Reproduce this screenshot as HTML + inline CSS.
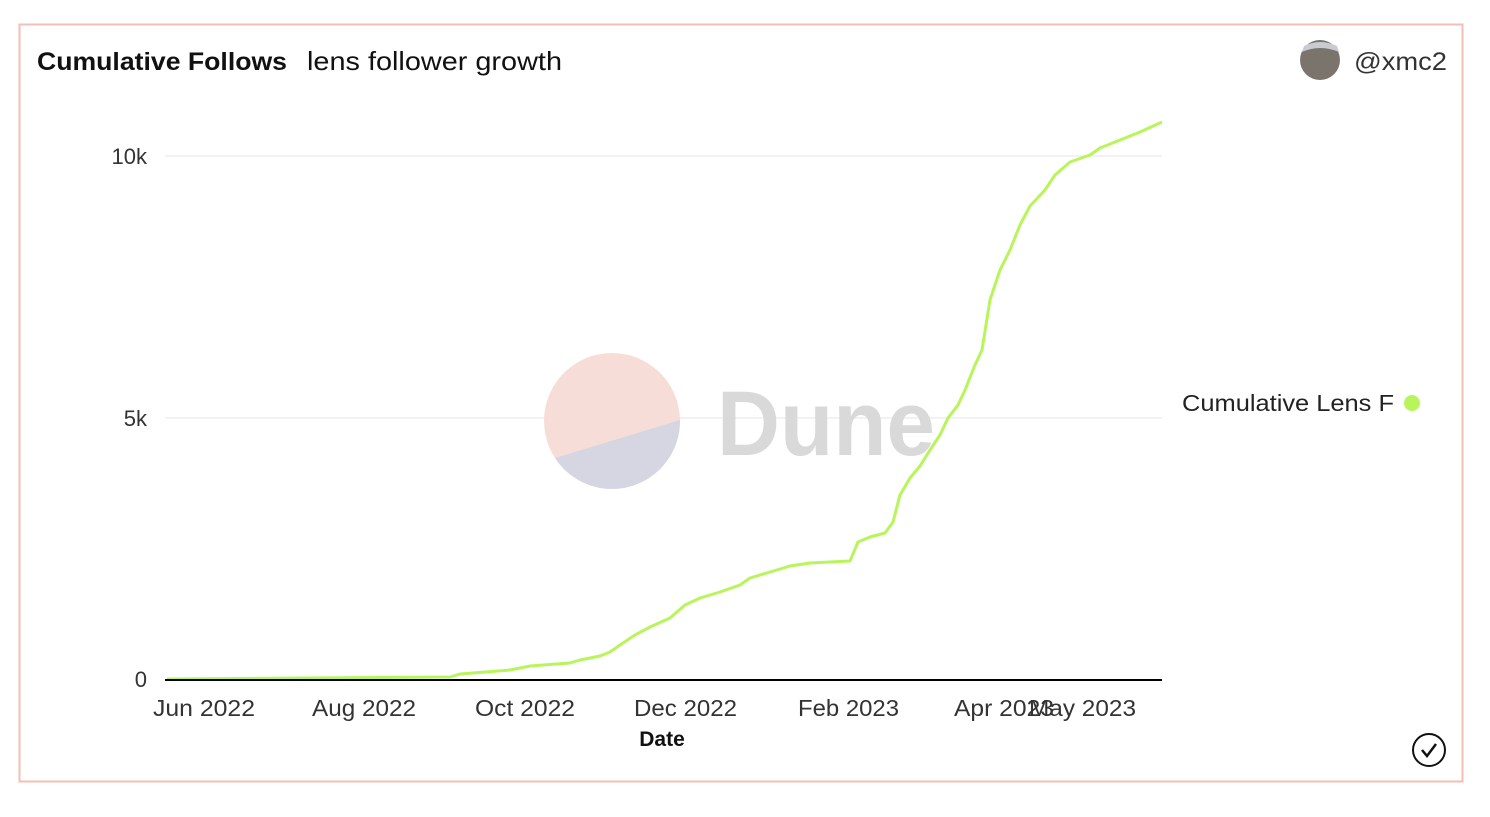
<!DOCTYPE html>
<html><head><style>
body{margin:0;background:#fff;width:1490px;height:812px;overflow:hidden;font-family:"Liberation Sans",sans-serif;}
</style></head><body>
<svg width="1490" height="812" xmlns="http://www.w3.org/2000/svg" font-family="Liberation Sans, sans-serif">
<rect x="19.5" y="24.5" width="1443" height="757" fill="#fff" stroke="#f4bdb5" stroke-width="2"/>
<text x="37" y="70" font-size="25" font-weight="bold" fill="#111" textLength="250" lengthAdjust="spacingAndGlyphs">Cumulative Follows</text>
<text x="307" y="70" font-size="26" fill="#111" textLength="255" lengthAdjust="spacingAndGlyphs">lens follower growth</text>
<circle cx="1320" cy="60" r="20" fill="#7a746c"/>
<path d="M1302 52 Q1320 44 1339 52 L1337 46 Q1320 38 1304 46Z" fill="#c8ccd0"/>
<text x="1354" y="70" font-size="25" fill="#333" textLength="93" lengthAdjust="spacingAndGlyphs">@xmc2</text>
<line x1="165" y1="156" x2="1162" y2="156" stroke="#eee" stroke-width="1.5"/>
<line x1="165" y1="418" x2="1162" y2="418" stroke="#eee" stroke-width="1.5"/>
<text x="147" y="164" font-size="22" fill="#333" text-anchor="end">10k</text>
<text x="147" y="426" font-size="22" fill="#333" text-anchor="end">5k</text>
<text x="147" y="687" font-size="22" fill="#333" text-anchor="end">0</text>
<circle cx="612" cy="421" r="68" fill="#f7ddd7"/>
<path d="M555 458 L680 420 A68 68 0 0 1 555 458Z" fill="#d6d6e2"/>
<text x="717" y="455" font-size="92" font-weight="bold" fill="#d9d9d9" textLength="218" lengthAdjust="spacingAndGlyphs">Dune</text>
<polyline fill="none" stroke="#b8f55a" stroke-width="3" stroke-linejoin="round" points="167,679 450,677 460,674 510,670 530,666 570,663 580,660 600,656 610,652 620,645 635,635 650,627 670,618 685,605 700,598 720,592 740,585 750,578 770,572 790,566 810,563 850,561 858,542 870,537 885,533 893,522 900,495 910,478 920,466 930,450 940,435 948,418 958,405 965,390 975,365 982,350 990,300 1000,270 1010,250 1020,225 1030,206 1045,190 1055,175 1070,162 1090,155 1100,148 1120,140 1140,132 1162,122"/>
<line x1="165" y1="680" x2="1162" y2="680" stroke="#000" stroke-width="2"/>
<g font-size="23" fill="#333">
<text x="153" y="716" textLength="102" lengthAdjust="spacingAndGlyphs">Jun 2022</text>
<text x="312" y="716" textLength="104" lengthAdjust="spacingAndGlyphs">Aug 2022</text>
<text x="475" y="716" textLength="100" lengthAdjust="spacingAndGlyphs">Oct 2022</text>
<text x="634" y="716" textLength="103" lengthAdjust="spacingAndGlyphs">Dec 2022</text>
<text x="798" y="716" textLength="101" lengthAdjust="spacingAndGlyphs">Feb 2023</text>
<text x="954" y="716" textLength="100" lengthAdjust="spacingAndGlyphs">Apr 2023</text>
<text x="1029" y="716" textLength="107" lengthAdjust="spacingAndGlyphs">May 2023</text>
</g>
<text x="662" y="746" font-size="21" font-weight="bold" fill="#111" text-anchor="middle">Date</text>
<text x="1182" y="411" font-size="23" fill="#222" textLength="212" lengthAdjust="spacingAndGlyphs">Cumulative Lens F</text>
<circle cx="1412" cy="403" r="8" fill="#b8f55a"/>
<circle cx="1429" cy="750" r="16" fill="none" stroke="#111" stroke-width="2"/>
<path d="M1422 750 L1427 756 L1436 744" fill="none" stroke="#111" stroke-width="2.5"/>
</svg>
</body></html>
